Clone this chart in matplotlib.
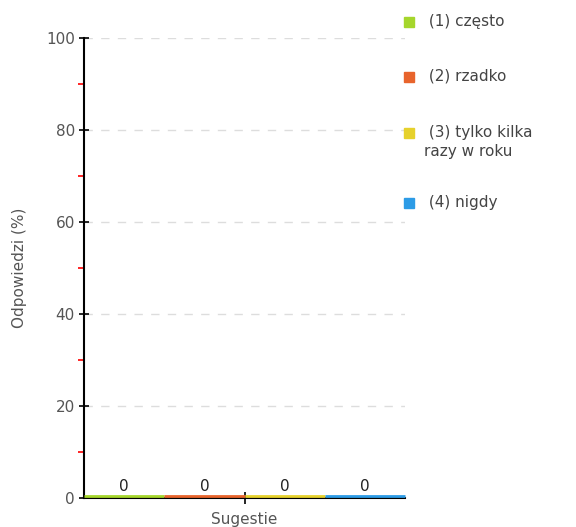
import matplotlib
matplotlib.use('Agg')
from matplotlib import pyplot as plt
from matplotlib.patches import Rectangle
import numpy as np

# dane
kategoria = 'Sugestie'
etykiety = [' (1) często', ' (2) rzadko', ' (3) tylko kilka\nrazy w roku', ' (4) nigdy']
wartosci = [0, 0, 0, 0]
kolory = ['#a5d62c', '#e8642c', '#e6d12c', '#2c9be6']
yticks = [0, 20, 40, 60, 80, 100]

fig = plt.figure(figsize=(5.76, 5.27), dpi=100)
ax = fig.add_axes([84/576, 1-498/527, (405-84)/576, (498-38)/527])

n = len(wartosci)
szer = 1.0 / n
x = np.arange(n) * szer + szer / 2
ax.bar(x, wartosci, width=szer, bottom=0.35, color=kolory, edgecolor=kolory, linewidth=2,
       zorder=4, clip_on=False)
for xi, v in zip(x, wartosci):
    ax.text(xi, v + 0.9, str(v), ha='center', va='bottom', fontsize=11, color='#222222')

ax.set_xlim(0, 1)
ax.set_ylim(0, 100)
ax.set_xticks([0.5])
ax.set_xticklabels([kategoria], fontsize=11, color='#555555')
ax.set_yticks(yticks)
ax.set_yticklabels([str(t) for t in yticks], fontsize=11, color='#555555')
ax.set_yticks(np.arange(10, 100, 20), minor=True)
ax.tick_params(axis='y', which='major', direction='inout', length=7, width=1.2, color='black', pad=3)
ax.tick_params(axis='y', which='minor', direction='out', length=4, width=1.2, color='red')
ax.tick_params(axis='x', which='major', direction='inout', length=8, width=1.2, color='black', pad=6)
ax.set_ylabel('Odpowiedzi (%)', fontsize=11, color='#555555', labelpad=14)

for s in ['top', 'right']:
    ax.spines[s].set_visible(False)
ax.spines['left'].set_linewidth(1.5)
ax.spines['bottom'].set_linewidth(1.5)
ax.grid(axis='y', linestyle=(0, (6, 6)), color='#dddddd', linewidth=1)
ax.set_axisbelow(True)

# legenda
poz_y = [22, 77, 133, 203]
for lab, kol, py in zip(etykiety, kolory, poz_y):
    fig.patches.append(Rectangle((404/576, 1-(py+5)/527), 10/576, 10/527,
                                 transform=fig.transFigure, color=kol, figure=fig))
    fig.text(424/576, 1-(py-8)/527, lab, fontsize=11, color='#444444',
             va='top', ha='left', linespacing=1.35)

fig.savefig('out.png', dpi=100)
